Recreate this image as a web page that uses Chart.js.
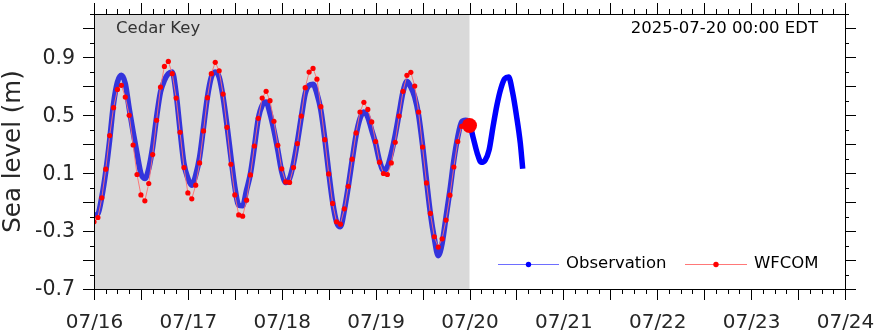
<!DOCTYPE html>
<html>
<head>
<meta charset="utf-8">
<title>Cedar Key sea level</title>
<script src="https://cdn.jsdelivr.net/npm/chart.js@4.4.1/dist/chart.umd.min.js"></script>
<style>
  html, body { margin: 0; padding: 0; background: #ffffff; }
  #wrap { position: relative; width: 877px; height: 334px; }
</style>
</head>
<body>
<div id="wrap"><canvas id="seaChart"></canvas></div>
<script>
// hours since 07/16 00:00 EDT on the x axis
const dayLabels = ['07/16', '07/17', '07/18', '07/19', '07/20', '07/21', '07/22', '07/23', '07/24'];
const yTickLabels = [-0.7, -0.3, 0.1, 0.5, 0.9];

// observation, hourly from 07/16 00:00
const obsLevel = [
  -0.19, -0.18, -0.063, 0.109, 0.328, 0.581, 0.730, 0.776, 0.719, 0.546, 0.385, 0.236,
  0.098, 0.063, 0.132, 0.281, 0.488, 0.661, 0.741, 0.788, 0.800, 0.650, 0.397, 0.167,
  0.065, 0.017, 0.086, 0.212, 0.419, 0.626, 0.764, 0.799, 0.764, 0.626, 0.431, 0.212,
  0.006, -0.121, -0.125, -0.017, 0.098, 0.281, 0.477, 0.569, 0.592, 0.512, 0.397, 0.259,
  0.110, 0.035, 0.063, 0.167, 0.316, 0.488, 0.650, 0.707, 0.715, 0.650, 0.534, 0.339,
  0.109, -0.098, -0.236, -0.270, -0.155, 0.006, 0.190, 0.362, 0.477, 0.523, 0.488, 0.397,
  0.305, 0.185, 0.120, 0.143, 0.236, 0.362, 0.512, 0.661, 0.735, 0.695, 0.626, 0.500,
  0.293, 0.052, -0.178, -0.350, -0.470, -0.385, -0.201, -0.017, 0.190, 0.350, 0.454, 0.466,
  0.443, 0.339, 0.236, 0.175, 0.190, 0.259, 0.419, 0.569, 0.684, 0.753, 0.764, 0.661,
  0.500, 0.305
];
const obsLastHour = 109.6;
const obsLastLevel = 0.13;

// WFCOM hindcast, hourly from 07/16 00:00 to 07/20 00:00
const wfcomLevel = [
  -0.236, -0.206, -0.070, 0.128, 0.360, 0.553, 0.679, 0.707, 0.626, 0.500, 0.295, 0.091,
  -0.050, -0.091, 0.029, 0.229, 0.466, 0.695, 0.838, 0.872, 0.788, 0.619, 0.383, 0.139,
  -0.036, -0.077, 0.017, 0.171, 0.392, 0.622, 0.788, 0.866, 0.808, 0.647, 0.417, 0.162,
  -0.050, -0.188, -0.197, -0.086, 0.088, 0.288, 0.479, 0.619, 0.666, 0.601, 0.459, 0.293,
  0.130, 0.040, 0.036, 0.139, 0.305, 0.495, 0.691, 0.799, 0.824, 0.750, 0.560, 0.332,
  0.095, -0.109, -0.236, -0.252, -0.146, 0.010, 0.197, 0.378, 0.523, 0.590, 0.541, 0.454,
  0.319, 0.176, 0.098, 0.091, 0.171, 0.314, 0.495, 0.666, 0.776, 0.797, 0.702, 0.523,
  0.281, 0.033, -0.178, -0.339, -0.410, -0.353, -0.224, -0.052, 0.143, 0.319, 0.424, 0.450,
  0.430
];

// current time marker
const nowHour = 96;
const nowLevel = 0.43;
const stationName = 'Cedar Key';
const nowText = '2025-07-20 00:00 EDT';

const FONT = 'DejaVu Sans';

function buildObsData() {
  const pts = obsLevel.map((v, i) => ({ x: i, y: v }));
  pts.push({ x: obsLastHour, y: obsLastLevel });
  return pts;
}

function buildWfcomData() {
  return wfcomLevel.map((v, i) => ({ x: i, y: v }));
}

// gray background over the hindcast period
const shadePlugin = {
  id: 'shade',
  beforeDatasetsDraw(chart) {
    const { ctx, chartArea, scales } = chart;
    const x0 = scales.x.getPixelForValue(0);
    const x1 = scales.x.getPixelForValue(nowHour);
    ctx.save();
    ctx.fillStyle = '#d9d9d9';
    ctx.fillRect(x0, chartArea.top, x1 - x0, chartArea.bottom - chartArea.top);
    ctx.restore();
  }
};

// frame, tick marks, tick labels, titles and the legend
const decorPlugin = {
  id: 'decor',
  afterDraw(chart) {
    const { ctx, chartArea, scales } = chart;
    const { left, right, top, bottom } = chartArea;
    ctx.save();
    ctx.strokeStyle = '#000000';
    ctx.lineWidth = 1;

    ctx.strokeRect(Math.round(left) + 0.5, Math.round(top) + 0.5,
      Math.round(right - left), Math.round(bottom - top));

    ctx.beginPath();
    for (let h = 0; h <= 192; h += 3) {
      const x = Math.round(scales.x.getPixelForValue(h)) + 0.5;
      const len = h % 12 === 0 ? 11 : 5;
      ctx.moveTo(x, bottom);
      ctx.lineTo(x, bottom + len);
      ctx.moveTo(x, top);
      ctx.lineTo(x, top - len);
    }
    for (let k = -7; k <= 12; k++) {
      const y = Math.round(scales.y.getPixelForValue(k / 10)) + 0.5;
      const len = (k + 7) % 2 === 0 ? 11 : 4;
      ctx.moveTo(left, y);
      ctx.lineTo(left - len, y);
      ctx.moveTo(right, y);
      ctx.lineTo(right + len, y);
    }
    ctx.stroke();

    // tick labels
    ctx.fillStyle = '#262626';
    ctx.textBaseline = 'middle';
    ctx.font = `20.5px "${FONT}"`;
    ctx.textAlign = 'right';
    yTickLabels.forEach(v => {
      ctx.fillText(v.toFixed(1), left - 19, scales.y.getPixelForValue(v) + 1);
    });
    ctx.font = `20px "${FONT}"`;
    ctx.textAlign = 'center';
    dayLabels.forEach((lab, i) => {
      ctx.fillText(lab, scales.x.getPixelForValue(i * 24) + 0.5, bottom + 34);
    });

    // y axis title
    ctx.save();
    ctx.translate(13.5, (top + bottom) / 2 + 0);
    ctx.rotate(-Math.PI / 2);
    ctx.font = `24.5px "${FONT}"`;
    ctx.textAlign = 'center';
    ctx.fillText('Sea level (m)', 0, 0);
    ctx.restore();

    ctx.font = `16.5px "${FONT}"`;
    ctx.textBaseline = 'middle';
    ctx.fillStyle = '#333333';
    ctx.textAlign = 'left';
    ctx.fillText(stationName, 116, 29);
    ctx.fillStyle = '#000000';
    ctx.textAlign = 'right';
    ctx.fillText(nowText, 818, 29);

    drawLegendItem(ctx, 498, 559, 264, 'rgba(110,110,255,1)', '#0000ff', 'Observation');
    drawLegendItem(ctx, 685, 747, 264, 'rgba(255,120,120,1)', '#ff0000', 'WFCOM');
    ctx.restore();
  }
};

function drawLegendItem(ctx, x0, x1, y, lineColor, dotColor, label) {
  ctx.beginPath();
  ctx.strokeStyle = lineColor;
  ctx.lineWidth = 1;
  ctx.moveTo(x0, y + 0.5);
  ctx.lineTo(x1, y + 0.5);
  ctx.stroke();
  ctx.beginPath();
  ctx.fillStyle = dotColor;
  ctx.arc((x0 + x1) / 2, y + 0.5, 2.7, 0, Math.PI * 2);
  ctx.fill();
  ctx.fillStyle = '#000000';
  ctx.font = `16.5px "${FONT}"`;
  ctx.textAlign = 'left';
  ctx.textBaseline = 'middle';
  ctx.fillText(label, x1 + 7, y);
}

function initializeChart() {
  const ctx = document.getElementById('seaChart').getContext('2d');

  new Chart(ctx, {
    type: 'line',
    data: {
      datasets: [
        {
          label: 'Observation',
          data: buildObsData(),
          borderColor: '#0000ff',
          segment: {
            borderColor: c => (c.p1.parsed.x <= nowHour ? '#3434dc' : '#0000ff')
          },
          borderWidth: 5.5,
          pointRadius: 0,
          cubicInterpolationMode: 'monotone',
          order: 3
        },
        {
          label: 'WFCOM',
          data: buildWfcomData(),
          borderColor: 'rgba(255,110,110,0.9)',
          borderWidth: 1,
          pointRadius: 2.6,
          pointBackgroundColor: '#ff0000',
          pointBorderWidth: 0,
          tension: 0,
          order: 2
        },
        {
          label: 'now',
          data: [{ x: nowHour, y: nowLevel }],
          showLine: false,
          pointRadius: 7.5,
          pointBackgroundColor: '#ff0000',
          pointBorderWidth: 0,
          order: 1
        }
      ]
    },
    options: {
      responsive: false,
      animation: false,
      devicePixelRatio: 1,
      layout: { padding: { top: 14, right: 32, left: 0, bottom: 0 } },
      plugins: {
        legend: { display: false },
        tooltip: { enabled: false }
      },
      scales: {
        x: {
          type: 'linear',
          min: 0,
          max: 192,
          grid: { display: false, drawTicks: false },
          border: { display: false },
          ticks: { display: false, stepSize: 24 },
          afterFit: scale => { scale.height = 45; }
        },
        y: {
          min: -0.7,
          max: 1.2,
          grid: { display: false, drawTicks: false },
          border: { display: false },
          ticks: { display: false, stepSize: 0.1 },
          afterFit: scale => { scale.width = 94; }
        }
      }
    },
    plugins: [shadePlugin, decorPlugin]
  });
}

document.getElementById('seaChart').width = 877;
document.getElementById('seaChart').height = 334;
initializeChart();
</script>
</body>
</html>
